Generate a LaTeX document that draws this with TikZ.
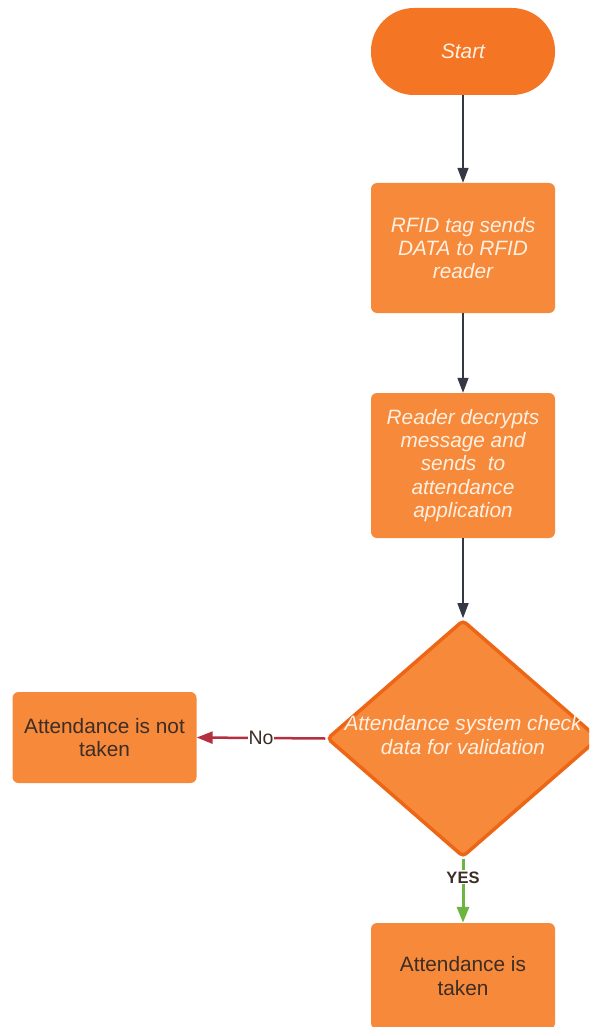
\documentclass[tikz,border=0pt]{standalone}
\usepackage{fontspec}
\setmainfont{Liberation Sans}
\usetikzlibrary{shapes.geometric,arrows.meta}
\definecolor{startor}{RGB}{244,117,35}
\definecolor{boxor}{RGB}{247,137,58}
\definecolor{diaedge}{RGB}{236,102,22}
\definecolor{lighttxt}{RGB}{253,240,226}
\definecolor{darktxt}{RGB}{60,45,38}
\definecolor{arrdark}{RGB}{52,56,66}
\definecolor{noline}{RGB}{180,48,64}
\definecolor{yesline}{RGB}{110,180,65}
\tikzset{
  txtfont/.style={font=\fontsize{20.8}{23.3}\selectfont},
  procbox/.style={rectangle, rounded corners=6pt, fill=boxor, minimum width=184pt, inner sep=0pt, align=center, font=\fontsize{20.8}{23.3}\selectfont\itshape, text=lighttxt},
  endbox/.style={rectangle, rounded corners=6pt, fill=boxor, minimum width=184pt, inner sep=0pt, align=center, font=\fontsize{20.8}{23.3}\selectfont, text=darktxt},
  arr/.style={draw=arrdark, line width=1.4pt, -{Triangle[width=11pt,length=15pt]}},
  noarr/.style={draw=noline, line width=2.5pt, -{Triangle[width=12pt,length=16pt]}},
  yesarr/.style={draw=yesline, line width=3pt, -{Triangle[width=12pt,length=16pt]}},
}
\begin{document}
\begin{tikzpicture}[x=1pt,y=-1pt]
\useasboundingbox (0,0) rectangle (589,1027);
\clip (0,0) rectangle (589,1027);
\fill[white] (0,0) rectangle (589,1027);

\node[rectangle, rounded corners=43pt, fill=startor, minimum width=184pt, minimum height=87pt, font=\fontsize{20.8}{23.3}\selectfont\itshape, text=lighttxt] (start) at (463,51.5) {Start};

\node[procbox, minimum height=130pt] (rfid) at (463,248) {RFID tag sends\\DATA to RFID\\reader};

\node[procbox, minimum height=145pt] (reader) at (463,465.5) {Reader decrypts\\message and\\sends\ \ to\\attendance\\application};

\node[diamond, draw=diaedge, line width=3.5pt, rounded corners=4pt, fill=boxor, minimum width=272pt, minimum height=237pt, inner sep=0pt] (dec) at (463,738.5) {};
\node[align=center, font=\fontsize{20.8}{23.3}\selectfont\itshape, text=lighttxt, inner sep=0pt] (dectext) at (463,735) {Attendance system check\\data for validation};

\node[endbox, minimum height=91pt] (nottaken) at (104.5,737.5) {Attendance is not\\taken};

\node[endbox, minimum height=106pt] (taken) at (463,976) {Attendance is\\taken};

\draw[arr] (start) -- (rfid);
\draw[arr] (rfid) -- (reader);
\draw[arr] (reader) -- (dec);
\draw[noarr] (dec.west) -- node[fill=white, inner sep=0.5pt, text=darktxt, font=\fontsize{19.5}{22}\selectfont] (nolabel) {No} (nottaken.east);
\draw[yesarr] (dec.south) -- node[pos=0.29, fill=white, inner sep=1pt, text=darktxt, font=\fontsize{16.5}{19}\selectfont\bfseries] (yeslabel) {YES} (taken.north);
\end{tikzpicture}
\end{document}
